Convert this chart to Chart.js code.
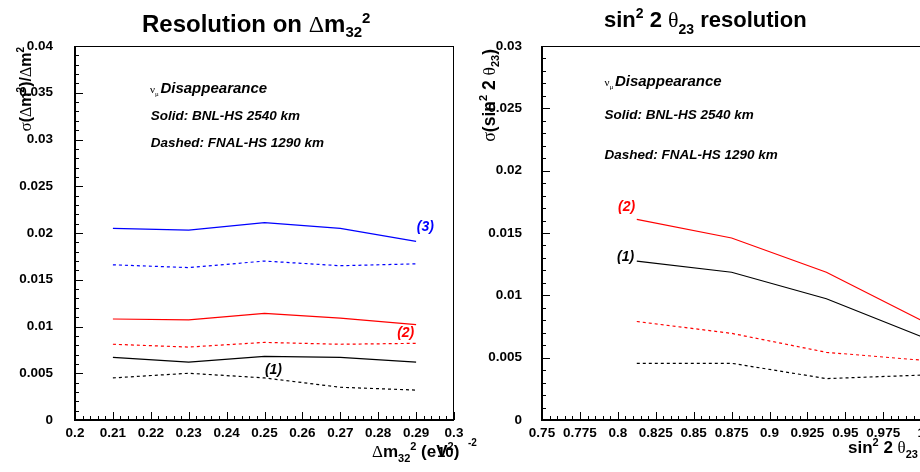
<!DOCTYPE html>
<html>
<head>
<meta charset="utf-8">
<script src="https://cdn.jsdelivr.net/npm/chart.js@4.4.1/dist/chart.umd.min.js"></script>
<style>
html, body { margin: 0; padding: 0; background: #fff; overflow: hidden; width: 920px; height: 472px; }
#left { position: absolute; left: 0; top: 0; }
#right { position: absolute; left: 460px; top: 0; }
</style>
</head>
<body>
<canvas id="left" width="480" height="472"></canvas>
<canvas id="right" width="560" height="472"></canvas>
<script>
// left panel: resolution on dm32^2, (1) black, (2) red, (3) blue
const dmX = [0.21, 0.23, 0.25, 0.27, 0.29];
const dmBnl1 = [0.0067, 0.0062, 0.0068, 0.0067, 0.0062];
const dmFnal1 = [0.0045, 0.0050, 0.0045, 0.0035, 0.0032];
const dmBnl2 = [0.0108, 0.0107, 0.0114, 0.0109, 0.0102];
const dmFnal2 = [0.0081, 0.0078, 0.0083, 0.0081, 0.0082];
const dmBnl3 = [0.0205, 0.0203, 0.0211, 0.0205, 0.0191];
const dmFnal3 = [0.0166, 0.0163, 0.0170, 0.0165, 0.0167];

// right panel: sin^2 2theta23 resolution
const s2tX = [0.8125, 0.875, 0.9375, 1.0];
const s2tBnl1 = [0.01275, 0.01185, 0.00973, 0.0067];
const s2tFnal1 = [0.00455, 0.00455, 0.00332, 0.0036];
const s2tBnl2 = [0.0161, 0.0146, 0.01185, 0.0080];
const s2tFnal2 = [0.0079, 0.00695, 0.00543, 0.0048];

const fam = '"Liberation Sans", Arial, sans-serif';
const gfam = '"Liberation Serif", "DejaVu Serif", serif';
Chart.defaults.font.family = fam;
Chart.defaults.color = '#000';

function fontOf(p) {
  if (p.f === 'g') return p.s + 'px ' + gfam;
  if (p.f === 'bi') return 'italic bold ' + p.s + 'px ' + fam;
  return 'bold ' + p.s + 'px ' + fam;
}

// draws a run of text pieces (for sub/superscripts)
function rich(ctx, x, y, parts, align, color) {
  ctx.fillStyle = color || '#000';
  ctx.textBaseline = 'alphabetic';
  ctx.textAlign = 'left';
  let w = 0;
  parts.forEach(p => { ctx.font = fontOf(p); w += ctx.measureText(p.t).width; });
  let cx = align === 'right' ? x - w : (align === 'center' ? x - w / 2 : x);
  parts.forEach(p => {
    ctx.font = fontOf(p);
    ctx.fillText(p.t, cx, y + (p.dy || 0));
    cx += ctx.measureText(p.t).width;
  });
}

const deco = {
  id: 'deco',
  afterDraw(chart, args, o) {
    const {ctx, chartArea: a, scales: {x, y}} = chart;
    ctx.save();
    ctx.strokeStyle = '#000';
    ctx.lineWidth = 1;
    ctx.strokeRect(a.left + 0.5, a.top + 0.5, a.right - a.left - 1, a.bottom - a.top);
    ctx.lineWidth = 2;
    ctx.beginPath();
    ctx.moveTo(a.left, a.top);
    ctx.lineTo(a.left, a.bottom);
    ctx.lineTo(a.right, a.bottom);
    ctx.stroke();

    // ticks inside the frame, 5 minor per major
    ctx.lineWidth = 1;
    ctx.beginPath();
    const xs = o.xStep / 5, ys = o.yStep / 5;
    for (let k = 0; k < 500; k++) {
      const v = x.min + k * xs;
      if (v > x.max + xs / 2) break;
      const px = Math.round(x.getPixelForValue(v)) + 0.5;
      const len = k % 5 === 0 ? 8 : 4;
      ctx.moveTo(px, a.bottom);
      ctx.lineTo(px, a.bottom - len);
    }
    for (let k = 0; k < 500; k++) {
      const v = y.min + k * ys;
      if (v > y.max + ys / 2) break;
      const py = Math.round(y.getPixelForValue(v)) + 0.5;
      const len = k % 5 === 0 ? 8 : 4;
      ctx.moveTo(a.left, py);
      ctx.lineTo(a.left + len, py);
    }
    ctx.stroke();

    (o.texts || []).forEach(t => rich(ctx, t.x, t.y, t.parts, t.align, t.color));
    (o.rotated || []).forEach(t => {
      ctx.save();
      ctx.translate(t.x, t.y);
      ctx.rotate(-Math.PI / 2);
      rich(ctx, 0, 0, t.parts, 'right', '#000');
      ctx.restore();
    });
    (o.notes || []).forEach(n => rich(ctx, x.getPixelForValue(n.x), y.getPixelForValue(n.y), n.parts, 'left', n.color));
    ctx.restore();
  }
};

function line(xs, ys, color, dashed) {
  return {
    data: xs.map((v, i) => ({x: v, y: ys[i]})),
    borderColor: color,
    borderWidth: 1.2,
    borderDash: dashed ? [3, 3] : [],
    pointRadius: 0,
    tension: 0,
    fill: false
  };
}

const fmt = v => String(+v.toFixed(4));
const tickFont = {size: 13.5, weight: 'bold'};

new Chart(document.getElementById('left'), {
  type: 'line',
  data: {
    datasets: [
      line(dmX, dmBnl3, '#0000ff', false),
      line(dmX, dmFnal3, '#0000ff', true),
      line(dmX, dmBnl2, '#ff0000', false),
      line(dmX, dmFnal2, '#ff0000', true),
      line(dmX, dmBnl1, '#000000', false),
      line(dmX, dmFnal1, '#000000', true)
    ]
  },
  plugins: [deco],
  options: {
    responsive: false,
    animation: false,
    devicePixelRatio: 1,
    layout: {padding: {top: 46, right: 26, left: 0, bottom: 0}},
    scales: {
      x: {
        type: 'linear', min: 0.2, max: 0.3,
        ticks: {stepSize: 0.01, padding: 5, font: tickFont, color: '#000', callback: fmt, maxRotation: 0, autoSkip: false},
        grid: {display: false, drawTicks: false},
        border: {display: false},
        afterFit(s) { s.height = 52; }
      },
      y: {
        min: 0, max: 0.04,
        ticks: {stepSize: 0.005, padding: 22, font: tickFont, color: '#000', callback: fmt},
        grid: {display: false, drawTicks: false},
        border: {display: false},
        afterFit(s) { s.width = 75; }
      }
    },
    plugins: {
      legend: {display: false},
      tooltip: {enabled: false},
      deco: {
        xStep: 0.01, yStep: 0.005,
        texts: [
          {x: 142, y: 32, parts: [
            {t: 'Resolution on ', s: 24}, {t: 'Δ', s: 24, f: 'g'}, {t: 'm', s: 24},
            {t: '32', s: 15, dy: 5}, {t: '2', s: 15, dy: -9}]},
          {x: 372, y: 457, parts: [
            {t: 'Δ', s: 17, f: 'g'}, {t: 'm', s: 17}, {t: '32', s: 11, dy: 5}, {t: '2', s: 11, dy: -7},
            {t: ' (eV', s: 17}, {t: '2', s: 11, dy: -7}, {t: ')', s: 17}]},
          {x: 437, y: 457, parts: [{t: '10', s: 15}]},
          {x: 468, y: 446, parts: [{t: '-2', s: 10}]}
        ],
        rotated: [
          {x: 31, y: 47, parts: [
            {t: 'σ', s: 17, f: 'g'}, {t: '(', s: 16}, {t: 'Δ', s: 16, f: 'g'}, {t: 'm', s: 16},
            {t: '2', s: 10, dy: -7}, {t: ')/', s: 16}, {t: 'Δ', s: 16, f: 'g'}, {t: 'm', s: 16},
            {t: '2', s: 10, dy: -7}]}
        ],
        notes: [
          {x: 0.2198, y: 0.0350, parts: [{t: 'ν', s: 11, f: 'g'}, {t: 'μ', s: 7, f: 'g', dy: 3}, {t: ' ', s: 6}, {t: 'Disappearance', s: 15, f: 'bi'}]},
          {x: 0.2200, y: 0.0321, parts: [{t: 'Solid: BNL-HS 2540 km', s: 13.5, f: 'bi'}]},
          {x: 0.2200, y: 0.0292, parts: [{t: 'Dashed: FNAL-HS 1290 km', s: 13.5, f: 'bi'}]},
          {x: 0.2902, y: 0.0202, color: '#0000ff', parts: [{t: '(3)', s: 14, f: 'bi'}]},
          {x: 0.2850, y: 0.00888, color: '#ff0000', parts: [{t: '(2)', s: 14, f: 'bi'}]},
          {x: 0.2501, y: 0.00492, color: '#000', parts: [{t: '(1)', s: 14, f: 'bi'}]}
        ]
      }
    }
  }
});

new Chart(document.getElementById('right'), {
  type: 'line',
  data: {
    datasets: [
      line(s2tX, s2tBnl2, '#ff0000', false),
      line(s2tX, s2tFnal2, '#ff0000', true),
      line(s2tX, s2tBnl1, '#000000', false),
      line(s2tX, s2tFnal1, '#000000', true)
    ]
  },
  plugins: [deco],
  options: {
    responsive: false,
    animation: false,
    devicePixelRatio: 1,
    layout: {padding: {top: 46, right: 23, left: 0, bottom: 0}},
    scales: {
      x: {
        type: 'linear', min: 0.75, max: 1.05,
        ticks: {stepSize: 0.025, padding: 5, font: tickFont, color: '#000', callback: fmt, maxRotation: 0, autoSkip: false},
        grid: {display: false, drawTicks: false},
        border: {display: false},
        afterFit(s) { s.height = 52; }
      },
      y: {
        min: 0, max: 0.03,
        ticks: {stepSize: 0.005, padding: 20, font: tickFont, color: '#000', callback: fmt},
        grid: {display: false, drawTicks: false},
        border: {display: false},
        afterFit(s) { s.width = 82; }
      }
    },
    plugins: {
      legend: {display: false},
      tooltip: {enabled: false},
      deco: {
        xStep: 0.025, yStep: 0.005,
        texts: [
          {x: 144, y: 27, parts: [
            {t: 'sin', s: 22}, {t: '2', s: 14, dy: -9}, {t: ' 2 ', s: 22}, {t: 'θ', s: 22, f: 'g'},
            {t: '23', s: 14, dy: 7}, {t: ' resolution', s: 22}]},
          {x: 388, y: 453, parts: [
            {t: 'sin', s: 17}, {t: '2', s: 11, dy: -7}, {t: ' 2 ', s: 17}, {t: 'θ', s: 17, f: 'g'},
            {t: '23', s: 11, dy: 5}]}
        ],
        rotated: [
          {x: 35, y: 49, parts: [
            {t: 'σ', s: 18, f: 'g'}, {t: '(sin', s: 17.5}, {t: '2', s: 11, dy: -8}, {t: ' 2 ', s: 17.5},
            {t: 'θ', s: 17.5, f: 'g'}, {t: '23', s: 11, dy: 4}, {t: ')', s: 17.5}]}
        ],
        notes: [
          {x: 0.7912, y: 0.02679, parts: [{t: 'ν', s: 11, f: 'g'}, {t: 'μ', s: 7, f: 'g', dy: 3}, {t: ' ', s: 6}, {t: 'Disappearance', s: 15, f: 'bi'}]},
          {x: 0.7912, y: 0.02414, parts: [{t: 'Solid: BNL-HS 2540 km', s: 13.5, f: 'bi'}]},
          {x: 0.7912, y: 0.02094, parts: [{t: 'Dashed: FNAL-HS 1290 km', s: 13.5, f: 'bi'}]},
          {x: 0.8001, y: 0.01676, color: '#ff0000', parts: [{t: '(2)', s: 14, f: 'bi'}]},
          {x: 0.7995, y: 0.01275, color: '#000', parts: [{t: '(1)', s: 14, f: 'bi'}]}
        ]
      }
    }
  }
});
</script>
</body>
</html>
